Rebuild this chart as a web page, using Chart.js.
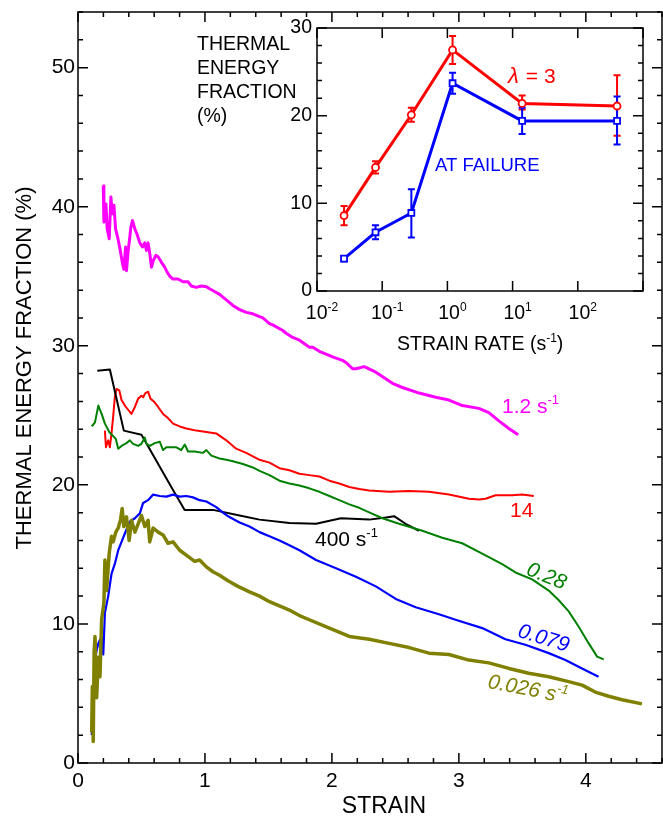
<!DOCTYPE html>
<html>
<head>
<meta charset="utf-8">
<script src="https://cdn.jsdelivr.net/npm/chart.js@4.4.1/dist/chart.umd.min.js"></script>
<style>
body { margin: 0; background: #fff; }
#wrap { position: relative; width: 663px; height: 816px; }
#main { position: absolute; left: 0; top: 0; }
#inset { position: absolute; left: 180px; top: 0; }
</style>
</head>
<body>
<div id="wrap">
<canvas id="main" width="663" height="816"></canvas>
<canvas id="inset" width="483" height="365"></canvas>
</div>
<script>
var FONT = '"Liberation Sans", Arial, sans-serif';

// main plot: [strain, thermal energy fraction %]
var curve12 = [[0.199,41.5],[0.204,38.9],[0.220,40.2],[0.230,38.4],[0.246,37.7],[0.259,40.7],[0.270,39.5],[0.283,40.1],[0.296,38.4],[0.312,37.8],[0.330,37.0],[0.351,35.9],[0.361,35.5],[0.375,37.1],[0.382,35.4],[0.395,36.8],[0.408,37.8],[0.416,38.5],[0.429,39.0],[0.448,38.4],[0.466,38.0],[0.487,37.4],[0.508,37.1],[0.526,37.4],[0.539,36.85],[0.552,37.4],[0.566,36.6],[0.579,35.65],[0.592,36.1],[0.613,36.5],[0.631,36.4],[0.657,36.0],[0.683,35.65],[0.702,35.3],[0.723,35.0],[0.749,34.8],[0.788,34.8],[0.827,34.6],[0.866,34.6],[0.893,34.3],[0.932,34.2],[0.972,34.3],[1.011,34.25],[1.037,34.1],[1.076,33.9],[1.115,33.7],[1.168,33.3],[1.22,32.9],[1.273,32.6],[1.325,32.4],[1.377,32.3],[1.43,32.1],[1.456,32.0],[1.508,31.6],[1.534,31.5],[1.613,31.1],[1.639,30.9],[1.691,30.6],[1.744,30.4],[1.823,29.9],[1.849,29.9],[1.901,29.6],[1.954,29.4],[2.005,29.2],[2.084,28.95],[2.11,28.8],[2.163,28.35],[2.189,28.35],[2.254,28.5],[2.346,28.1],[2.477,27.3],[2.555,27.0],[2.687,26.6],[2.818,26.3],[2.922,26.1],[3.027,25.7],[3.158,25.5],[3.236,25.2],[3.315,24.6],[3.394,24.05],[3.467,23.6]];
var curve14 = [[0.212,23.9],[0.22,22.7],[0.238,23.2],[0.251,22.7],[0.264,23.7],[0.277,24.9],[0.29,26.3],[0.304,26.9],[0.325,26.8],[0.343,26.1],[0.369,25.7],[0.395,25.4],[0.421,25.1],[0.448,25.6],[0.474,26.2],[0.5,26.4],[0.513,26.3],[0.531,26.6],[0.552,26.7],[0.571,26.2],[0.597,26.0],[0.631,25.6],[0.67,25.1],[0.709,24.8],[0.749,24.4],[0.801,24.2],[0.853,24.05],[0.932,23.9],[1.011,23.8],[1.089,23.7],[1.168,23.2],[1.246,22.6],[1.325,22.3],[1.43,21.8],[1.508,21.6],[1.587,21.2],[1.665,21.05],[1.744,20.8],[1.822,20.7],[1.901,20.6],[1.98,20.3],[2.058,20.1],[2.137,19.85],[2.215,19.7],[2.294,19.6],[2.451,19.5],[2.608,19.55],[2.765,19.5],[2.922,19.3],[3.079,19.0],[3.158,18.95],[3.21,19.0],[3.289,19.25],[3.42,19.25],[3.498,19.3],[3.59,19.2]];
var curve028 = [[0.108,24.2],[0.134,24.5],[0.16,25.7],[0.186,25.1],[0.212,24.4],[0.246,23.8],[0.277,23.5],[0.298,23.3],[0.317,22.6],[0.343,22.8],[0.382,23.0],[0.408,23.2],[0.434,22.95],[0.474,22.8],[0.5,22.95],[0.526,23.4],[0.539,22.95],[0.566,22.8],[0.605,23.0],[0.644,23.1],[0.67,22.5],[0.696,22.7],[0.775,22.7],[0.814,22.5],[0.841,22.9],[0.867,22.4],[0.919,22.4],[0.984,22.3],[1.011,22.5],[1.05,22.1],[1.115,21.9],[1.168,21.8],[1.22,21.7],[1.299,21.5],[1.377,21.25],[1.43,21.0],[1.508,20.7],[1.587,20.3],[1.665,20.1],[1.744,19.95],[1.822,19.75],[1.901,19.5],[1.98,19.2],[2.058,18.9],[2.137,18.6],[2.215,18.35],[2.298,18.0],[2.398,17.6],[2.529,17.2],[2.712,16.7],[2.869,16.2],[3.026,15.8],[3.184,15.06],[3.341,14.3],[3.446,13.7],[3.577,13.2],[3.708,12.4],[3.787,11.7],[3.865,10.9],[3.944,9.8],[4.023,8.6],[4.089,7.65],[4.141,7.45]];
var curve400 = [[0.152,28.2],[0.251,28.3],[0.361,23.9],[0.5,23.6],[0.744,19.7],[0.84,18.2],[1.063,18.2],[1.273,17.8],[1.43,17.5],[1.665,17.25],[1.875,17.2],[2.071,17.6],[2.294,17.5],[2.425,17.65],[2.49,17.75],[2.58,17.2],[2.686,16.7]];
var curve0079 = [[0.108,2.0],[0.12,3.8],[0.134,7.6],[0.16,8.6],[0.186,9.1],[0.199,7.8],[0.212,10.8],[0.238,12.0],[0.264,13.6],[0.291,14.35],[0.317,15.3],[0.343,15.9],[0.369,16.5],[0.408,17.35],[0.448,17.6],[0.487,17.95],[0.513,18.7],[0.552,18.9],[0.592,19.3],[0.644,19.2],[0.696,19.15],[0.749,19.3],[0.801,19.15],[0.853,19.2],[0.906,19.1],[0.958,18.9],[1.011,18.8],[1.089,18.4],[1.142,18.0],[1.189,17.7],[1.273,17.3],[1.351,17.0],[1.43,16.6],[1.508,16.3],[1.587,16.0],[1.665,15.65],[1.744,15.3],[1.875,14.6],[2.032,14.0],[2.189,13.4],[2.346,12.7],[2.503,11.8],[2.66,11.2],[2.843,10.7],[2.974,10.3],[3.184,9.7],[3.367,8.9],[3.524,8.5],[3.708,7.9],[3.839,7.4],[3.97,6.8],[4.1,6.2]];
var curve0026 = [[0.108,2.2],[0.113,5.5],[0.12,1.55],[0.127,8.0],[0.134,9.1],[0.147,4.7],[0.16,7.6],[0.173,6.2],[0.186,10.3],[0.204,11.5],[0.212,14.6],[0.225,12.4],[0.246,15.1],[0.264,16.3],[0.277,15.9],[0.298,16.6],[0.317,16.9],[0.335,17.5],[0.348,18.3],[0.361,17.0],[0.382,17.7],[0.403,16.0],[0.421,17.45],[0.448,16.6],[0.474,17.2],[0.5,17.8],[0.526,17.0],[0.552,17.45],[0.565,15.9],[0.592,16.9],[0.631,16.6],[0.67,16.4],[0.709,15.8],[0.749,15.9],[0.801,15.3],[0.853,14.95],[0.919,14.5],[0.958,14.6],[1.011,14.1],[1.063,13.75],[1.115,13.5],[1.181,13.1],[1.26,12.7],[1.351,12.3],[1.43,12.0],[1.508,11.6],[1.587,11.3],[1.665,11.0],[1.744,10.6],[1.822,10.3],[1.98,9.7],[2.137,9.1],[2.294,8.9],[2.451,8.6],[2.608,8.3],[2.765,7.9],[2.922,7.8],[3.079,7.4],[3.236,7.2],[3.394,6.8],[3.55,6.45],[3.708,6.2],[3.865,5.85],[3.97,5.6],[4.074,5.1],[4.18,4.8],[4.285,4.55],[4.442,4.25]];

// inset: strain rate (1/s) vs fraction
var rates = [0.026, 0.079, 0.28, 1.2, 14, 400];
var lambda3 = [8.6, 14.1, 20.1, 27.5, 21.4, 21.1];
var lambda3Lo = [7.5, 13.4, 19.3, 25.9, 20.7, 17.7];
var lambda3Hi = [9.7, 14.8, 20.9, 29.1, 22.3, 24.6];
var failure = [3.7, 6.7, 8.9, 23.7, 19.4, 19.4];
var failureLo = [3.4, 5.9, 6.1, 22.5, 17.9, 16.7];
var failureHi = [4.0, 7.5, 11.6, 24.9, 20.9, 22.2];
var rateTicks = [0.01, 0.1, 1, 10, 100, 1000];
var rateExp = ['-2', '-1', '0', '1', '2', ''];

function xy(arr) {
    return arr.map(function (p) { return {x: p[0], y: p[1]}; });
}

function drawRich(ctx, parts, x, y, size, align, italic, color) {
    var base = (italic ? 'italic ' : '') + size + 'px ' + FONT;
    var sup = (italic ? 'italic ' : '') + Math.round(size * 0.62) + 'px ' + FONT;
    var w = 0;
    parts.forEach(function (p) { ctx.font = p[1] ? sup : base; w += ctx.measureText(p[0]).width; });
    var cx = align == 'center' ? x - w / 2 : (align == 'right' ? x - w : x);
    ctx.fillStyle = color;
    ctx.textAlign = 'left';
    ctx.textBaseline = 'alphabetic';
    parts.forEach(function (p) {
        ctx.font = p[1] ? sup : base;
        ctx.fillText(p[0], cx, p[1] ? y - size * 0.42 : y);
        cx += ctx.measureText(p[0]).width;
    });
}

function frameTicks(chart, majorX, majorY) {
    var ctx = chart.ctx, a = chart.chartArea, sx = chart.scales.x, sy = chart.scales.y;
    ctx.save();
    ctx.strokeStyle = '#000';
    ctx.lineWidth = 1.5;
    ctx.strokeRect(a.left, a.top, a.right - a.left, a.bottom - a.top);
    ctx.beginPath();
    sx.ticks.forEach(function (t) {
        var p = sx.getPixelForValue(t.value), len = majorX(t.value) ? 10 : 5;
        ctx.moveTo(p, a.bottom); ctx.lineTo(p, a.bottom - len);
        ctx.moveTo(p, a.top); ctx.lineTo(p, a.top + len);
    });
    sy.ticks.forEach(function (t) {
        var p = sy.getPixelForValue(t.value), len = majorY(t.value) ? 10 : 5;
        ctx.moveTo(a.left, p); ctx.lineTo(a.left + len, p);
        ctx.moveTo(a.right, p); ctx.lineTo(a.right - len, p);
    });
    ctx.stroke();
    ctx.restore();
}

function isInt(v) { return Math.abs(v - Math.round(v)) < 1e-6; }
function isTen(v) { return isInt(v / 10); }

function rotLabel(ctx, parts, cx, cy, deg, size, color) {
    ctx.save();
    ctx.translate(cx, cy);
    ctx.rotate(deg * Math.PI / 180);
    drawRich(ctx, parts, 0, size * 0.36, size, 'center', true, color);
    ctx.restore();
}

var mainPlugin = {
    id: 'mainDeco',
    afterDraw: function (chart) {
        var ctx = chart.ctx;
        frameTicks(chart, isInt, isTen);
        ctx.save();
        ctx.translate(31, 368);
        ctx.rotate(-Math.PI / 2);
        drawRich(ctx, [['THERMAL ENERGY FRACTION (%)', false]], 0, 0, 22, 'center', false, '#000');
        ctx.restore();
        drawRich(ctx, [['STRAIN', false]], 384, 813, 23, 'center', false, '#000');
        drawRich(ctx, [['1.2 s', false], ['-1', true]], 502, 413, 21, 'left', false, '#ff00ff');
        drawRich(ctx, [['14', false]], 510, 517, 21, 'left', false, '#ff0000');
        drawRich(ctx, [['400 s', false], ['-1', true]], 315, 546, 21, 'left', false, '#000');
        rotLabel(ctx, [['0.28', false]], 547, 575, 22, 21, '#008000');
        rotLabel(ctx, [['0.079', false]], 544, 637, 17, 21, '#0000ff');
        rotLabel(ctx, [['0.026 s', false], ['-1', true]], 528, 688, 11, 21, '#808000');
    }
};

new Chart(document.getElementById('main'), {
    type: 'line',
    data: {
        datasets: [
            {data: xy(curve0026), borderColor: '#808000', borderWidth: 3.5},
            {data: xy(curve0079), borderColor: '#0000ff', borderWidth: 2.2},
            {data: xy(curve028), borderColor: '#008000', borderWidth: 2},
            {data: xy(curve400), borderColor: '#000000', borderWidth: 2},
            {data: xy(curve14), borderColor: '#ff0000', borderWidth: 2},
            {data: xy(curve12), borderColor: '#ff00ff', borderWidth: 3}
        ]
    },
    options: {
        responsive: false,
        animation: false,
        layout: {padding: {top: 12, right: 1, left: 0, bottom: 0}},
        elements: {point: {radius: 0}, line: {tension: 0, borderJoinStyle: 'round'}},
        plugins: {legend: {display: false}, tooltip: {enabled: false}},
        scales: {
            x: {
                type: 'linear', min: 0, max: 4.6,
                grid: {display: false, drawTicks: false},
                border: {display: false},
                ticks: {
                    stepSize: 0.2, padding: 6, color: '#000', autoSkip: false, maxRotation: 0,
                    font: {family: FONT, size: 21},
                    callback: function (v) { return isInt(v) ? Math.round(v) : ''; }
                },
                afterFit: function (s) { s.height = 53; s.paddingLeft = 0; s.paddingRight = 0; }
            },
            y: {
                min: 0, max: 54,
                grid: {display: false, drawTicks: false},
                border: {display: false},
                ticks: {
                    stepSize: 2, padding: 3, color: '#000', autoSkip: false,
                    font: {family: FONT, size: 21},
                    callback: function (v) { return isTen(v) ? v : ''; }
                },
                afterFit: function (s) { s.width = 78; s.paddingTop = 0; s.paddingBottom = 0; }
            }
        }
    },
    plugins: [mainPlugin]
});

var insetPlugin = {
    id: 'insetDeco',
    beforeDatasetsDraw: function (chart) {
        var ctx = chart.ctx, sx = chart.scales.x, sy = chart.scales.y;
        var bars = [[lambda3Lo, lambda3Hi, '#ff0000'], [failureLo, failureHi, '#0000ff']];
        ctx.save();
        ctx.lineWidth = 2;
        bars.forEach(function (b) {
            ctx.strokeStyle = b[2];
            ctx.beginPath();
            rates.forEach(function (r, i) {
                var px = sx.getPixelForValue(r), lo = sy.getPixelForValue(b[0][i]), hi = sy.getPixelForValue(b[1][i]);
                ctx.moveTo(px, lo); ctx.lineTo(px, hi);
                ctx.moveTo(px - 3.5, lo); ctx.lineTo(px + 3.5, lo);
                ctx.moveTo(px - 3.5, hi); ctx.lineTo(px + 3.5, hi);
            });
            ctx.stroke();
        });
        ctx.restore();
    },
    afterDraw: function (chart) {
        var ctx = chart.ctx, sx = chart.scales.x;
        frameTicks(chart, function () { return true; }, isTen);
        ['THERMAL', 'ENERGY', 'FRACTION', '(%)'].forEach(function (s, i) {
            drawRich(ctx, [[s, false]], 17, 50 + i * 24, 19.5, 'left', false, '#000');
        });
        rateTicks.forEach(function (v, i) {
            if (rateExp[i] === '') return;
            drawRich(ctx, [['10', false], [rateExp[i], true]], sx.getPixelForValue(v) + 5, 319, 19.5, 'center', false, '#000');
        });
        drawRich(ctx, [['STRAIN RATE (s', false], ['-1', true], [')', false]], 217, 350, 19.5, 'left', false, '#000');
        drawRich(ctx, [['\u03bb', false]], 328, 83, 22, 'left', true, '#ff0000');
        drawRich(ctx, [[' = 3', false]], 340, 83, 21, 'left', false, '#ff0000');
        drawRich(ctx, [['AT FAILURE', false]], 255, 171, 18.5, 'left', false, '#0000ff');
    }
};

new Chart(document.getElementById('inset'), {
    type: 'line',
    data: {
        datasets: [
            {data: rates.map(function (r, i) { return {x: r, y: lambda3[i]}; }), borderColor: '#ff0000', borderWidth: 3,
                pointStyle: 'circle', pointRadius: 3.5, pointBorderWidth: 1.8, pointBackgroundColor: '#ffffff', pointBorderColor: '#ff0000'},
            {data: rates.map(function (r, i) { return {x: r, y: failure[i]}; }), borderColor: '#0000ff', borderWidth: 3,
                pointStyle: 'rect', pointRadius: 4.2, pointBorderWidth: 1.8, pointBackgroundColor: '#ffffff', pointBorderColor: '#0000ff'}
        ]
    },
    options: {
        responsive: false,
        animation: false,
        layout: {padding: {top: 28, right: 20, left: 0, bottom: 0}},
        elements: {line: {tension: 0}},
        plugins: {legend: {display: false}, tooltip: {enabled: false}},
        scales: {
            x: {
                type: 'logarithmic', min: 0.01, max: 1000,
                grid: {display: false, drawTicks: false},
                border: {display: false},
                ticks: {display: false},
                afterBuildTicks: function (s) { s.ticks = rateTicks.map(function (v) { return {value: v}; }); },
                afterFit: function (s) { s.height = 74; s.paddingLeft = 0; s.paddingRight = 0; }
            },
            y: {
                min: 0, max: 30,
                grid: {display: false, drawTicks: false},
                border: {display: false},
                ticks: {
                    stepSize: 2, padding: 5, color: '#000', autoSkip: false,
                    font: {family: FONT, size: 19.5},
                    callback: function (v) { return isTen(v) ? v : ''; }
                },
                afterFit: function (s) { s.width = 137; s.paddingTop = 0; s.paddingBottom = 0; }
            }
        }
    },
    plugins: [insetPlugin]
});
</script>
</body>
</html>
